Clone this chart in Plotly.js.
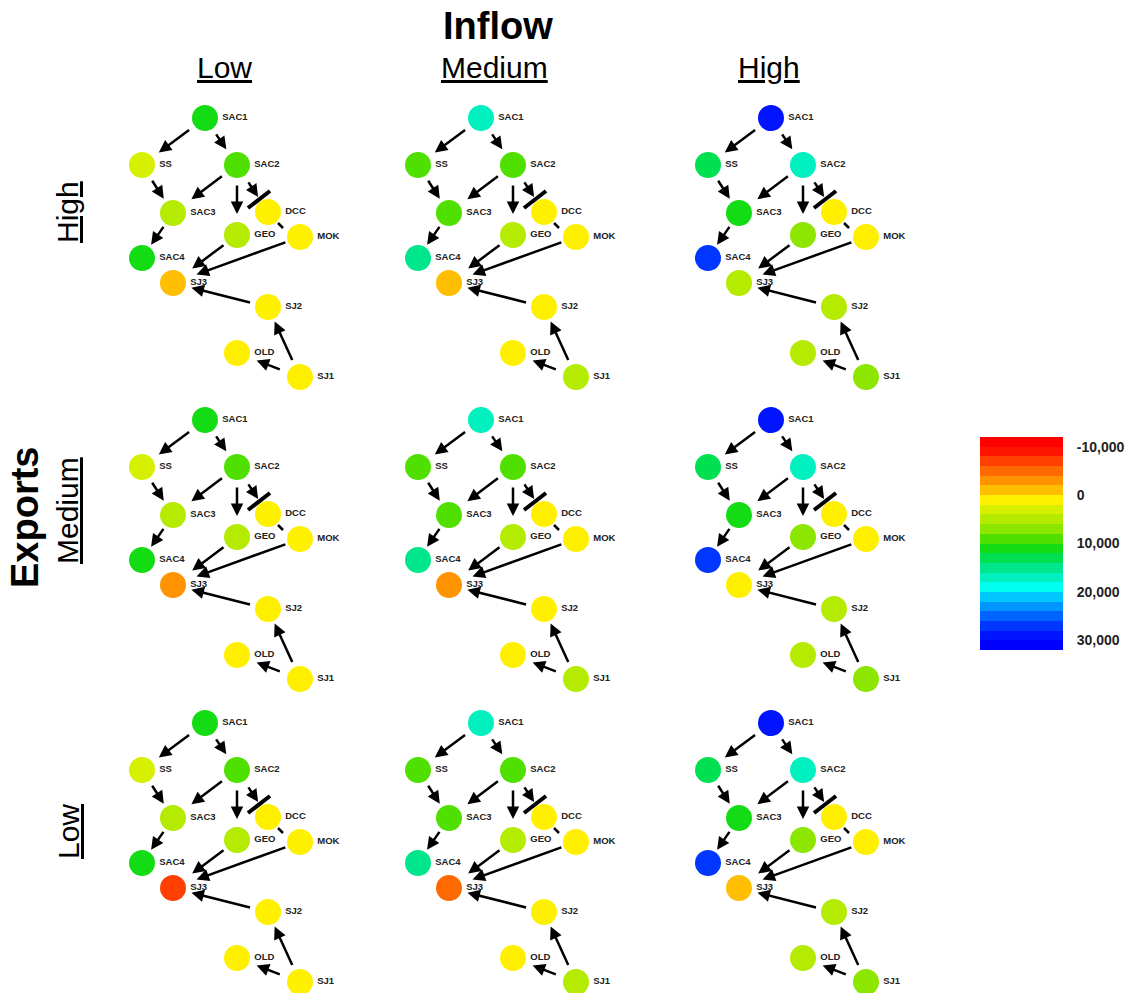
<!DOCTYPE html>
<html><head><meta charset="utf-8">
<script src="https://cdn.plot.ly/plotly-3.0.1.min.js"></script>
<style>html,body{margin:0;padding:0;background:#fff}</style>
</head><body><div id="chart" style="width:1129px;height:993px"></div>
<script>
// ---------------- DATA ----------------
const nodeNames = ['SAC1','SS','SAC2','SAC3','DCC','GEO','MOK','SAC4','SJ3','SJ2','OLD','SJ1'];
const inflowLevels = ['Low','Medium','High'];
const exportLevels = ['High','Medium','Low'];
const edgeFrom = ['SAC1','SAC1','SS','SAC2','SAC2','SAC2','SAC3','GEO','MOK','SJ2','SJ1','SJ1'];
const edgeTo   = ['SS','SAC2','SAC3','SAC3','GEO','DCC','SAC4','SJ3','SJ3','SJ3','SJ2','OLD'];

// node values (flow), order = nodeNames
const exportsHigh_inflowLow    = [11000, 3500, 9000, 4500, 1000, 4500, 1000, 10200, -1500, 1000, 1000, 1000];
const exportsHigh_inflowMedium = [17000, 8200, 9500, 8500, 1000, 4500, 1000, 15000, -1500, 1000, 1000, 4500];
const exportsHigh_inflowHigh   = [29500, 13000, 17000, 11500, 1000, 6500, 1000, 27000, 4500, 4500, 4500, 7000];
const exportsMedium_inflowLow    = [11000, 3500, 9000, 4500, 1000, 4500, 1000, 10200, -3000, 1000, 1000, 1000];
const exportsMedium_inflowMedium = [17000, 8200, 9500, 8500, 1000, 4500, 1000, 15000, -3000, 1000, 1000, 4500];
const exportsMedium_inflowHigh   = [29500, 13000, 17000, 11500, 1000, 6500, 1000, 27000, 1000, 4500, 4500, 7000];
const exportsLow_inflowLow    = [11000, 3500, 9000, 4500, 1000, 4500, 1000, 10200, -7000, 1000, 1000, 1000];
const exportsLow_inflowMedium = [17000, 8200, 9500, 8500, 1000, 4500, 1000, 15000, -5000, 1000, 1000, 4500];
const exportsLow_inflowHigh   = [29500, 13000, 17000, 11500, 1000, 6500, 1000, 27000, -1500, 4500, 4500, 7000];

const colorbarTickVals = [-10000, 0, 10000, 20000, 30000];
const colorbarTickText = ['-10,000', '0', '10,000', '20,000', '30,000'];
const scaleMin = -12000, scaleMax = 32000, bandStep = 2000;

// ---------------- STYLE / LAYOUT ----------------
const bandColors = ['#FF0000','#FF1400','#FF4000','#FF6A00','#FF9400','#FFBE00','#FFF000','#D7F000',
  '#B4EB00','#8CE600','#50E000','#14DC14','#00E050','#00E68C','#00F0C0','#00FFF0',
  '#00C8FF','#0096FF','#0064FF','#0037FF','#0014FF','#0000FF'];
// network layout (pixel units within a panel)
const nodeX = [85, 22, 117, 53, 148, 117, 180, 22, 53, 148, 117, 180];
const nodeY = [13, 60, 60, 108, 107, 130, 132, 153, 178, 202, 248, 272];
const tipStandoff   = [21, 19, 17, 23, 21, 18, 16, 24, 25, 19, 16, 21];
const tailStandoff  = [18, 18, 17, 17, 19, 19, 15, 15, 14, 17, 17, 20];
const gate = {x0:128, y0:103, x1:150, y1:86};
const link = {x0:158, y0:118, x1:163, y1:123};
const colOffsets = [0, 276, 566];
const rowOffsets = [0, 302, 605];
const panelOrigin = {x:120, y:105};
const panelW = 260, panelH = 280;
const W = 1129, H = 993;
const FONT = 'Liberation Sans, Arial, sans-serif';

const panelValues = [
  [exportsHigh_inflowLow, exportsHigh_inflowMedium, exportsHigh_inflowHigh],
  [exportsMedium_inflowLow, exportsMedium_inflowMedium, exportsMedium_inflowHigh],
  [exportsLow_inflowLow, exportsLow_inflowMedium, exportsLow_inflowHigh]
];

const nBands = bandColors.length;
const colorscale = [];
bandColors.forEach((c, k) => { colorscale.push([k / nBands, c]); colorscale.push([(k + 1) / nBands, c]); });

const traces = [];
const layout = {
  width: W, height: H, margin: {l:0, r:0, t:0, b:0},
  paper_bgcolor: '#fff', plot_bgcolor: '#fff', showlegend: false,
  font: {family: FONT}, annotations: [], shapes: []
};
const idx = name => nodeNames.indexOf(name);

for (let r = 0; r < 3; r++) {
  for (let c = 0; c < 3; c++) {
    const n = r * 3 + c + 1;
    const sfx = n === 1 ? '' : String(n);
    const x0 = panelOrigin.x + colOffsets[c], y0 = panelOrigin.y + rowOffsets[r];
    layout['xaxis' + sfx] = {domain: [x0 / W, (x0 + panelW) / W], range: [0, panelW], visible: false, fixedrange: true, anchor: 'y' + sfx};
    layout['yaxis' + sfx] = {domain: [1 - (y0 + panelH) / H, 1 - y0 / H], range: [panelH, 0], visible: false, fixedrange: true, anchor: 'x' + sfx};
    edgeFrom.forEach((f, e) => {
      const a = idx(f), b = idx(edgeTo[e]);
      layout.annotations.push({
        xref: 'x' + sfx, yref: 'y' + sfx, axref: 'x' + sfx, ayref: 'y' + sfx,
        x: nodeX[b], y: nodeY[b], ax: nodeX[a], ay: nodeY[a], text: '',
        showarrow: true, arrowhead: 2, arrowsize: 1, arrowwidth: 2.5, arrowcolor: '#000',
        standoff: tipStandoff[e], startstandoff: tailStandoff[e]
      });
    });
    layout.shapes.push({type:'line', xref:'x'+sfx, yref:'y'+sfx, x0:gate.x0, y0:gate.y0, x1:gate.x1, y1:gate.y1, line:{color:'#000', width:4}});
    layout.shapes.push({type:'line', xref:'x'+sfx, yref:'y'+sfx, x0:link.x0, y0:link.y0, x1:link.x1, y1:link.y1, line:{color:'#000', width:2.5}});
    traces.push({
      type: 'scatter', mode: 'markers+text', xaxis: 'x' + sfx, yaxis: 'y' + sfx,
      x: nodeX, y: nodeY, text: nodeNames, textposition: 'middle right',
      textfont: {family: FONT, size: 9.5, color: '#222', weight: 700},
      marker: {size: 26, color: panelValues[r][c], colorscale: colorscale, cmin: scaleMin, cmax: scaleMax, line: {width: 0}},
      cliponaxis: false, hoverinfo: 'skip'
    });
  }
}

// colour bar as a heatmap
const bandCenters = [];
for (let k = 0; k < nBands; k++) bandCenters.push(scaleMin + bandStep * (k + 0.5));
traces.push({
  type: 'heatmap', xaxis: 'x10', yaxis: 'y10', x: [0], y: bandCenters, z: bandCenters.map(v => [v]),
  colorscale: colorscale, zmin: scaleMin, zmax: scaleMax, showscale: false, hoverinfo: 'skip'
});
layout.xaxis10 = {domain: [980 / W, 1063 / W], range: [-0.5, 0.5], visible: false, fixedrange: true, anchor: 'y10'};
layout.yaxis10 = {domain: [1 - 650 / H, 1 - 437 / H], range: [scaleMax, scaleMin], side: 'right', anchor: 'x10',
  tickvals: colorbarTickVals, ticktext: colorbarTickText, ticks: 'outside', ticklen: 10, tickcolor: 'rgba(0,0,0,0)',
  tickfont: {family: FONT, size: 14, color: '#222', weight: 700}, showgrid: false, zeroline: false, fixedrange: true,
  showline: false};

// headers
const ann = (text, px, py, size, angle) => ({xref: 'paper', yref: 'paper', x: px / W, y: 1 - py / H,
  xanchor: 'center', yanchor: 'middle', text: text, showarrow: false, textangle: angle || 0,
  font: {family: FONT, size: size, color: '#000'}});
layout.annotations.push(ann('<b>Inflow</b>', 498, 26, 38));
const colHeaderX = [224, 494, 769];
inflowLevels.forEach((t, i) => layout.annotations.push(ann('<u>' + t + '</u>', colHeaderX[i], 68, 30)));
const rowHeaderY = [212, 511, 832];
exportLevels.forEach((t, i) => layout.annotations.push(ann('<u>' + t + '</u>', 68, rowHeaderY[i], 30, -90)));
layout.annotations.push(ann('<b>Exports</b>', 25, 518, 38, -90));

Plotly.newPlot('chart', traces, layout, {staticPlot: true, displayModeBar: false});
</script></body></html>
